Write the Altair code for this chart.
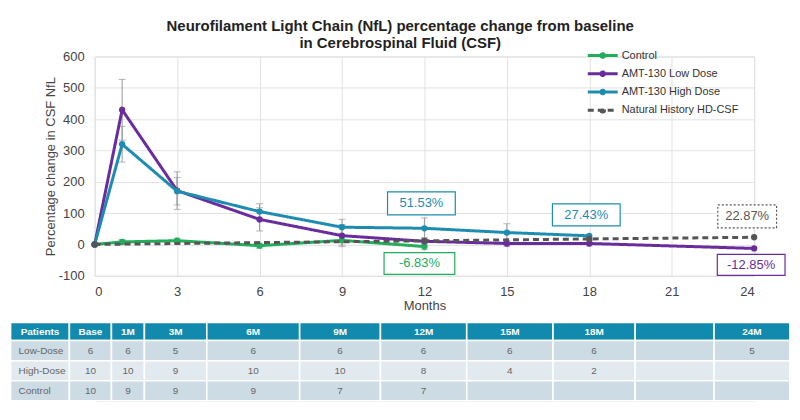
import altair as alt
import pandas as pd

FONT = "Liberation Sans"

# ---------------- data ----------------
series_names = ["Control", "AMT-130 Low Dose", "AMT-130 High Dose", "Natural History HD-CSF"]
series_colors = ["#22ad5c", "#6a2c9d", "#1e8cb0", "#555555"]

control_months = [0, 1, 3, 6, 9, 12]
control_values = [0, 8, 12, -4, 13, -6.83]
control_err = [0, 8, 8, 8, 15, 10]

low_months = [0, 1, 3, 6, 9, 12, 15, 18, 24]
low_values = [0, 430, 172, 80, 28, 10, 3, 3, -12.85]
low_err = [0, 97, 60, 37, 35, 12, 10, 8, 0]

high_months = [0, 1, 3, 6, 9, 12, 15, 18]
high_values = [0, 320, 170, 105, 55, 51.53, 38, 27.43]
high_err = [0, 57, 44, 25, 25, 33, 28, 0]

nh_months = [0, 12, 18, 24]
nh_values = [0, 11.5, 17.5, 22.87]

ann_series = ["AMT-130 High Dose", "Control", "AMT-130 High Dose", "Natural History HD-CSF", "AMT-130 Low Dose"]
ann_months = [12, 12, 18, 24, 24]
ann_values = [51.53, -6.83, 27.43, 22.87, -12.85]
ann_labels = ["51.53%", "-6.83%", "27.43%", "22.87%", "-12.85%"]

table_columns = ["Patients", "Base", "1M", "3M", "6M", "9M", "12M", "15M", "18M", "", "24M"]
table_rows = ["Low-Dose", "High-Dose", "Control"]
low_counts = ["6", "6", "5", "6", "6", "6", "6", "6", "", "5"]
high_counts = ["10", "10", "9", "10", "10", "8", "4", "2", "", ""]
control_counts = ["10", "9", "9", "9", "7", "7", "", "", "", ""]

# ---------------- layout (styles) ----------------
col_edges = [-3.06, -0.92, 0.61, 1.81, 4.08, 7.46, 10.4, 13.54, 16.68, 19.67, 22.54, 25.3]
row_edges = [0, 18, 38.3, 58.4, 78.5]
ann_style = [  # xOffset, yOffset, box width, box height, dashed
    (-3, -25, 68, 23, False),
    (-5, 17, 71, 22, False),
    (-3, -21, 68, 22, False),
    (-7, -21, 59, 23, True),
    (-3, 16.5, 68, 21, False),
]

# ---------------- frames ----------------
rows = []
for name, ms, vs, es in [
    ("Control", control_months, control_values, control_err),
    ("AMT-130 Low Dose", low_months, low_values, low_err),
    ("AMT-130 High Dose", high_months, high_values, high_err),
    ("Natural History HD-CSF", nh_months, nh_values, [0] * len(nh_months)),
]:
    for m, v, e in zip(ms, vs, es):
        rows.append({"series": name, "month": m, "value": v, "lo": v - e, "hi": v + e, "err": e})
df = pd.DataFrame(rows)

xs = alt.Scale(domain=[0, 24], nice=False)
ys = alt.Scale(domain=[-100, 600], nice=False)

legend_symbol = "M-2,0H2M-0.24,0a0.24,0.24 0 1,0 0.48,0a0.24,0.24 0 1,0 -0.48,0"
legend_kwargs = dict(
    title=None, orient="none", legendX=501, legendY=-10,
    symbolType=legend_symbol, symbolSize=225, symbolStrokeWidth=3,
    labelFont=FONT, labelFontSize=11, labelColor="#333333",
    labelOffset=10, rowPadding=1.3, padding=0,
)

color_enc = alt.Color(
    "series:N",
    scale=alt.Scale(domain=series_names, range=series_colors),
    legend=alt.Legend(**legend_kwargs),
)
dash_enc = alt.StrokeDash(
    "series:N",
    scale=alt.Scale(domain=series_names, range=[[1, 0], [1, 0], [1, 0], [6, 4]]),
    legend=alt.Legend(**legend_kwargs),
)

x_axis = alt.Axis(
    values=list(range(0, 25, 3)), grid=True, gridColor="#e2e2e2", domain=False, ticks=False,
    labelFont=FONT, labelFontSize=13, labelColor="#444444", labelPadding=10,
    title="Months", titleFont=FONT, titleFontSize=13, titleFontWeight="normal",
    titleColor="#444444", titlePadding=1,
)
y_axis = alt.Axis(
    values=list(range(-100, 601, 100)), grid=True, gridColor="#e2e2e2", domain=False, ticks=False,
    labelFont=FONT, labelFontSize=13, labelColor="#444444", labelPadding=10.5,
    labelOverlap=False, labelExpr="'' + datum.value",
    title="Percentage change in CSF NfL", titleFont=FONT, titleFontSize=13,
    titleFontWeight="normal", titleColor="#444444", titlePadding=0.5,
)

X = alt.X("month:Q", scale=xs, axis=x_axis)
Y = alt.Y("value:Q", scale=ys, axis=y_axis)

base = alt.Chart(df)

errbars = base.transform_filter("datum.err > 0").mark_errorbar(
    ticks=alt.MarkConfig(size=7), color="#999999", thickness=1
).encode(
    x=X,
    y=alt.Y("lo:Q", scale=ys, axis=y_axis),
    y2="hi:Q",
)

layers = [errbars]
for name in series_names:
    sub = base.transform_filter(alt.datum.series == name)
    line = sub.mark_line(strokeWidth=3).encode(
        x=X, y=Y, color=color_enc, strokeDash=dash_enc,
    )
    pts = sub.mark_point(filled=True, size=40, opacity=1).encode(
        x=X, y=Y,
        color=alt.Color("series:N", scale=alt.Scale(domain=series_names, range=series_colors), legend=None),
    )
    layers += [line, pts]

ann_df = pd.DataFrame({"series": ann_series, "month": ann_months, "value": ann_values, "label": ann_labels})
for i, (dx, dy, w, h, dashed) in enumerate(ann_style):
    one = alt.Chart(ann_df.iloc[[i]])
    col = series_colors[series_names.index(ann_series[i])]
    hh = h / w
    shape = f"M-1,-{hh:.4f}H1V{hh:.4f}H-1Z"
    box_kwargs = dict(shape=shape, size=w * w, filled=False, fill="white", fillOpacity=1,
                      stroke="#555555" if dashed else col, strokeWidth=1.2, opacity=1,
                      xOffset=dx, yOffset=dy)
    if dashed:
        box_kwargs["strokeDash"] = [2, 2]
    box = one.mark_point(**box_kwargs).encode(x=X, y=Y)
    txt = one.mark_text(font=FONT, fontSize=13, color=col, xOffset=dx, yOffset=dy,
                        align="center", baseline="middle").encode(x=X, y=Y, text="label:N")
    layers += [box, txt]

top = alt.layer(*layers).properties(width=662, height=220)

# ---------------- table ----------------
cells = []
all_rows = [table_columns] + [[r] + c for r, c in zip(table_rows, [low_counts, high_counts, control_counts])]
for ri, row in enumerate(all_rows):
    for ci, val in enumerate(row):
        kind = "header" if ri == 0 else ("light" if ri == 2 else "dark")
        cells.append({
            "x": col_edges[ci], "x2": col_edges[ci + 1],
            "y": row_edges[ri], "y2": row_edges[ri + 1],
            "text": val, "kind": kind, "first": ci == 0,
        })
cdf = pd.DataFrame(cells)
tx = alt.Scale(domain=[0, 24], nice=False)
ty = alt.Scale(domain=[0, row_edges[-1]], nice=False, reverse=True)

tbase = alt.Chart(cdf)
rects = tbase.mark_rect(stroke="white", strokeWidth=1.6).encode(
    x=alt.X("x:Q", scale=tx, axis=None), x2="x2:Q",
    y=alt.Y("y:Q", scale=ty, axis=None), y2="y2:Q",
    fill=alt.Fill("kind:N", scale=alt.Scale(domain=["header", "dark", "light"],
                                             range=["#128aad", "#cddbe5", "#e2eaf0"]), legend=None),
)
hdr_text = tbase.transform_filter("datum.kind == 'header'").transform_calculate(
    xc="(datum.x + datum.x2) / 2", yc="(datum.y + datum.y2) / 2"
).mark_text(font=FONT, fontSize=10, fontWeight="bold", color="white").encode(
    x=alt.X("xc:Q", scale=tx, axis=None), y=alt.Y("yc:Q", scale=ty, axis=None), text="text:N"
)
body_text = tbase.transform_filter("datum.kind != 'header' && !datum.first").transform_calculate(
    xc="(datum.x + datum.x2) / 2", yc="(datum.y + datum.y2) / 2"
).mark_text(font=FONT, fontSize=10, color="#666666").encode(
    x=alt.X("xc:Q", scale=tx, axis=None), y=alt.Y("yc:Q", scale=ty, axis=None), text="text:N"
)
first_text = tbase.transform_filter("datum.kind != 'header' && datum.first").transform_calculate(
    yc="(datum.y + datum.y2) / 2"
).mark_text(font=FONT, fontSize=10, color="#666666", align="left", dx=8).encode(
    x=alt.X("x:Q", scale=tx, axis=None), y=alt.Y("yc:Q", scale=ty, axis=None), text="text:N"
)
table = alt.layer(rects, hdr_text, body_text, first_text).properties(width=662, height=row_edges[-1])

chart = alt.vconcat(top, table, spacing=7).properties(
    title=alt.Title(
        ["Neurofilament Light Chain (NfL) percentage change from baseline", "in Cerebrospinal Fluid (CSF)"],
        font=FONT, fontSize=15, fontWeight="bold", color="#222222", lineHeight=17,
        anchor="middle", offset=-4,
    ),
    padding={"left": 1, "top": 10, "right": 0, "bottom": 0},
).configure_view(stroke=None).configure_axis(labelOverlap=False).configure(background="white")

chart.save("out.html", embed_options={"renderer": "svg", "actions": False})
